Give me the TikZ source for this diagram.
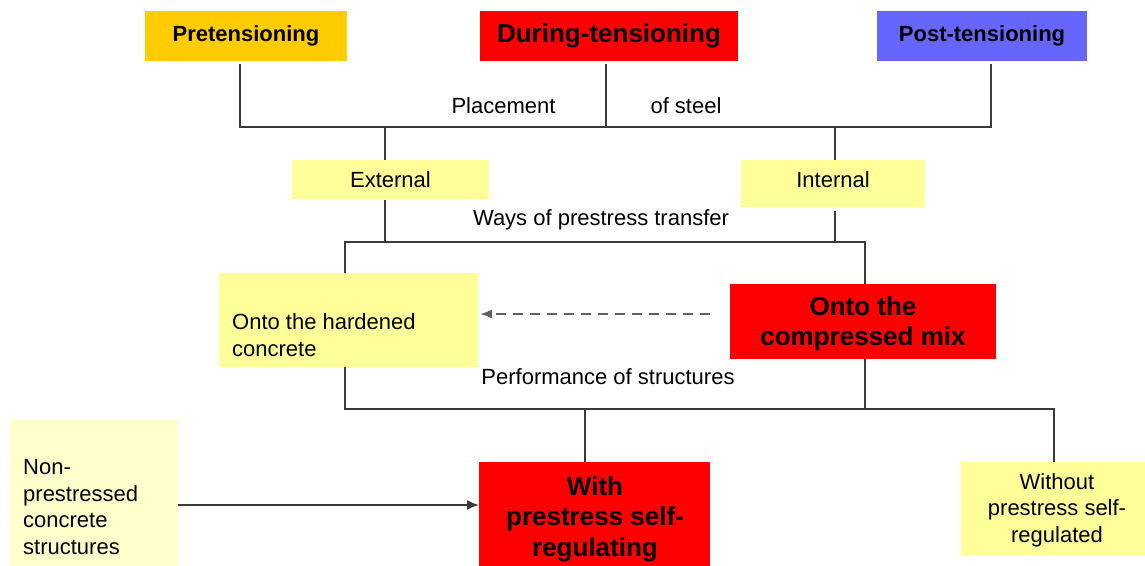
\documentclass[tikz,border=0pt]{standalone}
\usepackage{fontspec}
\setmainfont{Liberation Sans}
\usetikzlibrary{arrows.meta}
\definecolor{preC}{HTML}{FFCC00}
\definecolor{redC}{HTML}{FF0000}
\definecolor{postC}{HTML}{6666FF}
\definecolor{yelC}{HTML}{FFFF99}
\definecolor{paleC}{HTML}{FFFFCC}
\definecolor{lineC}{HTML}{3A3A3A}
\definecolor{dashC}{HTML}{606060}
\begin{document}
\begin{tikzpicture}[x=1pt,y=-1pt,
  blk/.style={inner sep=0pt, outer sep=0pt},
  nt/.style={font=\fontsize{22}{26.5}\selectfont, inner sep=0pt},
  bt/.style={font=\fontsize{22}{26}\selectfont\bfseries, inner sep=0pt},
  bbt/.style={font=\fontsize{26}{30.5}\selectfont\bfseries, inner sep=0pt, align=center},
  ln/.style={draw=lineC, line width=1.8pt},
  arr/.style={ln, -{Latex[length=12pt,width=10pt]}},
  darr/.style={draw=dashC, line width=1.8pt, dash pattern=on 10pt off 7pt, -{Latex[length=12pt,width=9pt]}}]
\useasboundingbox (0,0) rectangle (1145,565);
\fill[white] (0,0) rectangle (1145,565);

% top row
\node[blk, bt, fill=preC, minimum width=202pt, minimum height=50pt] (pre) at (246,36) {Pretensioning};
\node[blk, bbt, fill=redC, minimum width=258pt, minimum height=50pt] (dur) at (609,36) {During-tensioning};
\node[blk, bt, fill=postC, minimum width=210pt, minimum height=50pt] (post) at (982,36) {Post-tensioning};

% second row
\node[blk, nt, fill=yelC, minimum width=197pt, minimum height=39pt] (ext) at (390.5,179.5) {External};
\node[blk, fill=yelC, minimum width=184pt, minimum height=47pt] (int) at (833,183.5) {};
\node[nt] (intT) at (833,180) {Internal};

% third row
\node[blk, fill=yelC, minimum width=259pt, minimum height=94pt] (hard) at (348.5,320) {};
\node[nt, anchor=west, align=left] (hardT) at (232,335) {Onto the hardened\\concrete};
\node[blk, fill=redC, minimum width=266pt, minimum height=75pt] (cmp) at (863,321.5) {};
\node[bbt] (cmpT) at (863,324) {Onto the\\compressed mix};

% bottom row
\node[blk, fill=paleC, minimum width=168pt, minimum height=146pt] (non) at (94,493) {};
\node[nt, anchor=west, align=left] (nonT) at (23,507) {Non-\\prestressed\\concrete\\structures};
\node[blk, fill=redC, minimum width=231pt, minimum height=104pt] (with) at (594.5,514) {};
\node[bbt] (withT) at (595,519) {With\\prestress self-\\regulating};
\node[blk, fill=yelC, minimum width=184pt, minimum height=93pt] (wo) at (1053,508.5) {};
\node[nt, align=center] (woT) at (1057,510) {Without\\prestress self-\\regulated};

% labels
\node[nt] (lblA) at (503.5,106) {Placement};
\node[nt] (lblB) at (686,106) {of steel};
\node[nt] (lblC) at (601,220) {Ways of prestress transfer};
\node[nt] (lblD) at (608,377) {Performance of structures};

% junction coordinates
\coordinate (b1) at (240,127);
\coordinate (b2) at (991,127);
\coordinate (bd) at (606,127);
\coordinate (be) at (385,127);
\coordinate (bi) at (835,127);
\coordinate (c1) at (345,242);
\coordinate (c2) at (865,242);
\coordinate (d1) at (345,409);
\coordinate (d2) at (1054,409);
\coordinate (dw) at (585,409);

% connectors
\draw[ln, shorten <=3pt, shorten >=3pt] (pre.south -| b1) -- (b1) -- (b2) -- (post.south -| b2);
\draw[ln, shorten <=3pt] (dur.south -| bd) -- (bd);
\draw[ln] (be) -- (ext.north -| be);
\draw[ln] (bi) -- (int.north -| bi);
\draw[ln, shorten <=1pt] (ext.south -| be) -- (be |- c1);
\draw[ln, shorten <=4pt] (int.south -| bi) -- (bi |- c1);
\draw[ln] (hard.north -| c1) -- (c1) -- (c2) -- (cmp.north -| c2);
\draw[ln] (hard.south -| d1) -- (d1) -- (d2) -- (wo.north -| d2);
\draw[ln] (cmp.south -| c2) -- (c2 |- d1);
\draw[ln] (dw) -- (with.north -| dw);
\draw[arr] ([yshift=-12pt]non.east) coordinate (na) -- (na -| with.west);
\draw[darr, shorten >=2pt] ([xshift=-20pt,yshift=7.5pt]cmp.west) coordinate (da) -- (da -| hard.east);
\end{tikzpicture}
\end{document}
